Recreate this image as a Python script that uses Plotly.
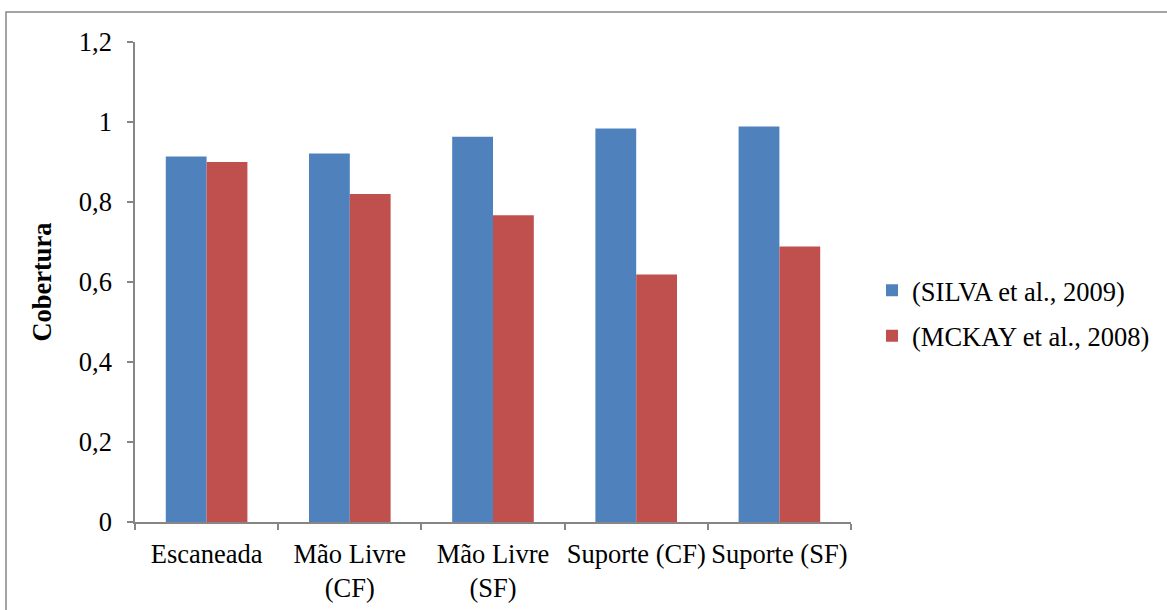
import plotly.graph_objects as go

# Coverage per acquisition method, two reference studies
categories = ["Escaneada", "Mão Livre<br>(CF)", "Mão Livre<br>(SF)", "Suporte (CF)", "Suporte (SF)"]
silva_2009 = [0.914, 0.921, 0.963, 0.984, 0.989]
mckay_2008 = [0.900, 0.820, 0.767, 0.619, 0.689]
series_names = ["(SILVA et al., 2009)", "(MCKAY et al., 2008)"]
y_ticks = [0, 0.2, 0.4, 0.6, 0.8, 1.0, 1.2]

W, H = 1167, 610
L, R, T, B = 135, 316, 42, 88
pw, ph = W - L - R, H - T - B

FONT = "Liberation Serif"
FS = 26.5
AXIS = "#868686"

fig = go.Figure()
fig.add_trace(go.Bar(x=categories, y=silva_2009, name=series_names[0], legendgroup="a",
                     marker=dict(color="#4F81BD", line=dict(width=0))))
fig.add_trace(go.Bar(x=categories, y=mckay_2008, name=series_names[1], legendgroup="b",
                     marker=dict(color="#C0504D", line=dict(width=0))))


def px_x(v):
    return (v - L) / pw


def px_y(v):
    return (H - B - v) / ph


# outer chart frame (runs off the right and bottom edges)
fig.add_shape(type="rect", xref="paper", yref="paper",
              x0=px_x(6), x1=px_x(1200), y0=px_y(12), y1=px_y(640),
              line=dict(color=AXIS, width=1.5), fillcolor="rgba(0,0,0,0)", layer="below")

fig.update_layout(
    width=W, height=H,
    margin=dict(l=L, r=R, t=T, b=B, autoexpand=False),
    paper_bgcolor="white", plot_bgcolor="white",
    barmode="group", bargap=0.43, bargroupgap=0,
    separators=", ",
    font=dict(family=FONT, size=FS, color="black"),
    showlegend=True,
    legend=dict(x=px_x(872), y=px_y(313), xanchor="left", yanchor="middle",
                font=dict(family=FONT, size=FS, color="black"),
                bgcolor="rgba(0,0,0,0)", tracegroupgap=8, traceorder="grouped"),
    xaxis=dict(showline=True, linecolor=AXIS, linewidth=1.5,
               ticks="outside", tickson="boundaries", ticklen=6, tickcolor=AXIS, tickwidth=1.5,
               tickfont=dict(family=FONT, size=FS, color="black"),
               tickangle=0, automargin=False,
               ticklabelstandoff=7,
               showgrid=False, zeroline=False),
    yaxis=dict(range=[0, 1.2], tickvals=y_ticks, showline=True, linecolor=AXIS, linewidth=1.5,
               ticks="outside", ticklen=6, tickcolor=AXIS, tickwidth=1.5,
               tickfont=dict(family=FONT, size=FS, color="black"),
               ticklabelstandoff=10, automargin=False,
               showgrid=False, zeroline=False,
               title=dict(text="<b>Cobertura</b>", font=dict(family=FONT, size=FS, color="black"),
                          standoff=20)),
)

fig.write_html("out.html")
